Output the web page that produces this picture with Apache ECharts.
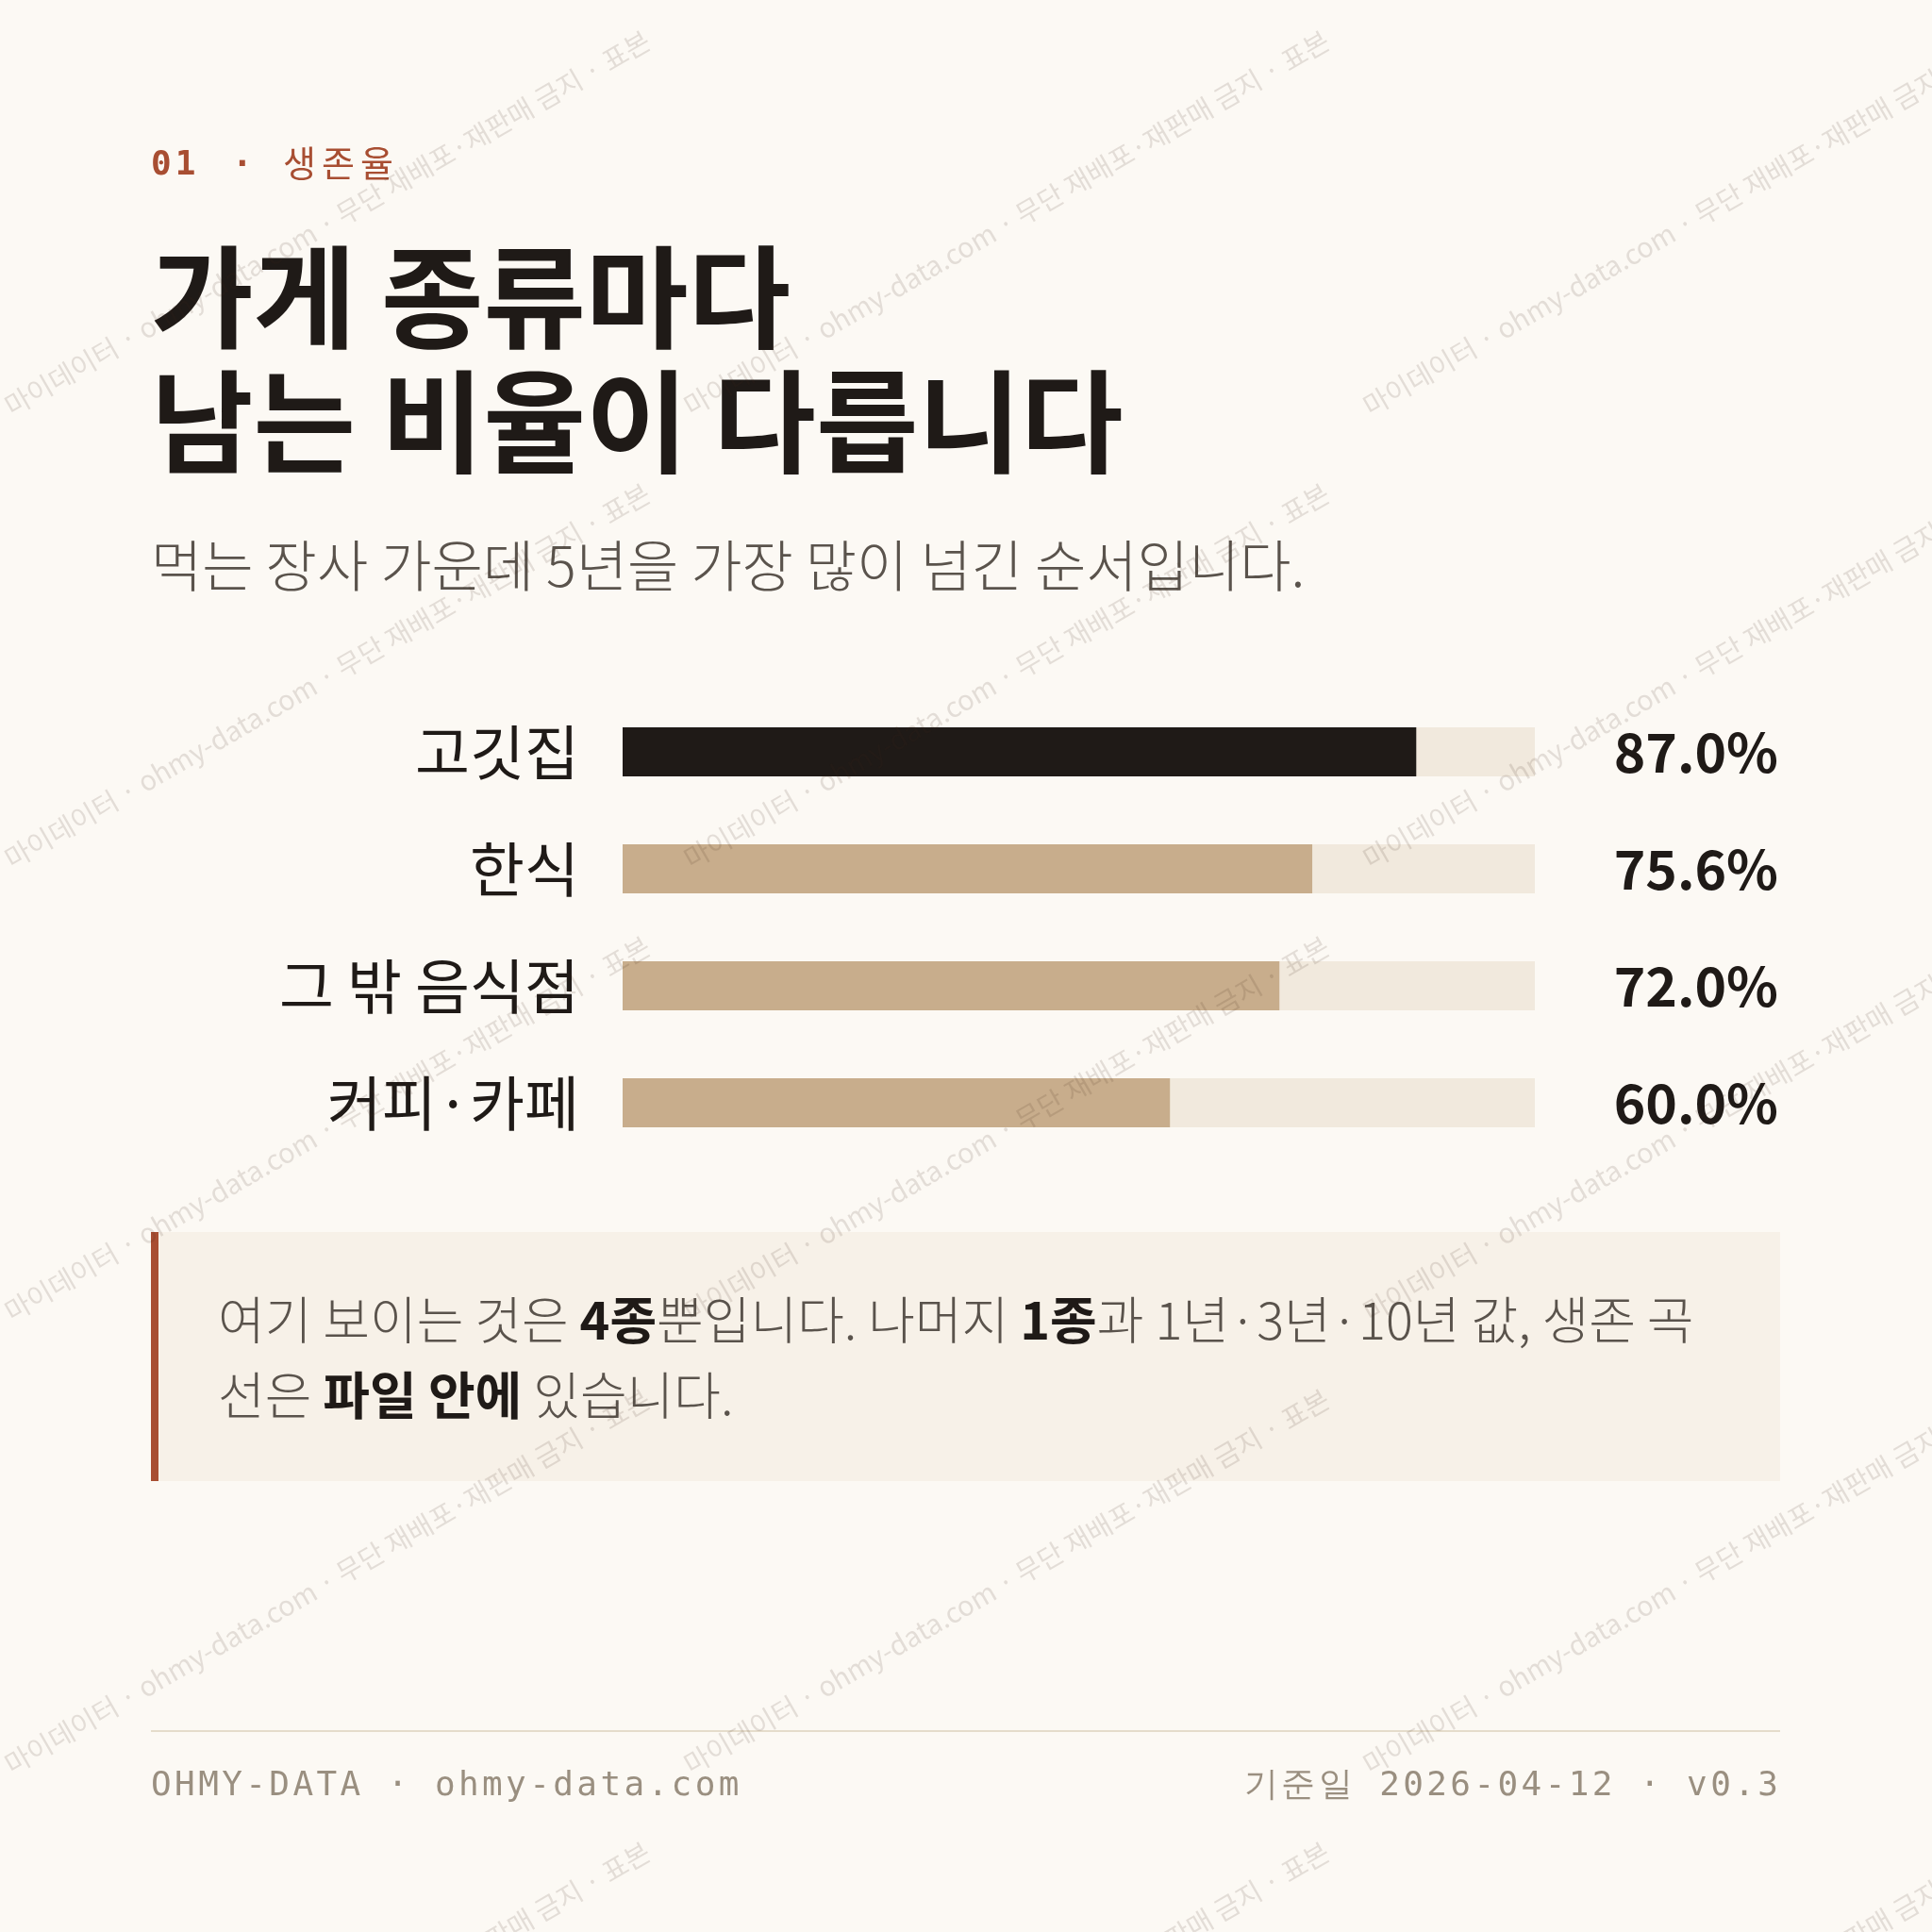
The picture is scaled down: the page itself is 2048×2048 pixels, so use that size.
<!DOCTYPE html>
<html><head><meta charset="utf-8">
<script src="https://cdn.jsdelivr.net/npm/echarts@6/dist/echarts.min.js"></script>
<style>html,body{margin:0;padding:0;background:#fcf9f4}#c{width:2048px;height:2048px}</style>
</head><body><div id="c"></div>
<script>
const categories = ['고깃집', '한식', '그 밖 음식점', '커피·카페'];
const survival5y = [87.0, 75.6, 72.0, 60.0];
const barColors = ['#1f1a17', '#c8ad8c', '#c8ad8c', '#c8ad8c'];
const valueLabels = survival5y.map(v => v.toFixed(1) + '%');

const KR = '"Noto Sans CJK KR", "Noto Sans", sans-serif';
const MONO = '"DejaVu Sans Mono", "Liberation Mono", monospace';

const ctx = document.createElement('canvas').getContext('2d');
function spaced(text, x, y, font, fill, spacing, alignRight) {
  ctx.font = font;
  const widths = [...text].map(ch => ctx.measureText(ch).width + spacing);
  const total = widths.reduce((a, b) => a + b, 0) - spacing;
  let cx = alignRight ? x - total : x;
  const out = [];
  [...text].forEach((ch, i) => {
    out.push({ type: 'text', x: cx, y: y, style: { text: ch, fill: fill, font: font } });
    cx += widths[i];
  });
  return out;
}

const wmText = '마이데이터 · ohmy-data.com · 무단 재배포·재판매 금지 · 표본';
const graphics = [];
for (let r = -2; r < 7; r++) {
  for (let c = -1; c < 4; c++) {
    graphics.push({
      type: 'text', x: c * 720 + 0, y: r * 480 + 420, rotation: Math.PI / 6, z: 100,
      style: { text: wmText, fill: 'rgba(60,40,20,0.13)', font: '29px ' + KR }
    });
  }
}
graphics.push(
  ...spaced('01', 160, 158, 'bold 36px ' + MONO, '#a84e32', 4, false),
  { type: 'text', x: 246, y: 158, style: { text: '·', fill: '#a84e32', font: 'bold 36px ' + MONO } },
  ...spaced('생존율', 300, 154, '38px ' + KR, '#a84e32', 6, false),
  { type: 'text', left: 160, top: 256, style: { text: '가게 종류마다', fill: '#1f1a17', font: 'bold 118px ' + KR } },
  { type: 'text', left: 160, top: 388, style: { text: '남는 비율이 다릅니다', fill: '#1f1a17', font: 'bold 118px ' + KR } },
  { type: 'text', left: 160, top: 570, style: { text: '먹는 장사 가운데 5년을 가장 많이 넘긴 순서입니다.', fill: '#5a534c', font: '300 59px ' + KR } },
  { type: 'rect', shape: { x: 160, y: 1306, width: 1727, height: 264 }, style: { fill: '#f7f1e8' } },
  { type: 'rect', shape: { x: 160, y: 1306, width: 8, height: 264 }, style: { fill: '#a84e32' } },
  { type: 'text', left: 231, top: 1372, style: {
      text: '{n|여기 보이는 것은 }{b|4종}{n|뿐입니다. 나머지 }{b|1종}{n|과 1년·3년·10년 값, 생존 곡}',
      rich: { n: { fill: '#5a534c', font: '300 54px ' + KR }, b: { fill: '#1f1a17', font: 'bold 54px ' + KR } } } },
  { type: 'text', left: 231, top: 1452, style: {
      text: '{n|선은 }{b|파일 안에}{n| 있습니다.}',
      rich: { n: { fill: '#5a534c', font: '300 54px ' + KR }, b: { fill: '#1f1a17', font: 'bold 54px ' + KR } } } },
  { type: 'rect', shape: { x: 160, y: 1834, width: 1727, height: 2 }, style: { fill: '#e5dccb' } },
  ...spaced('OHMY-DATA · ohmy-data.com', 160, 1876, '36px ' + MONO, '#9a8f80', 3.4, false),
  ...spaced('기준일 2026-04-12 · v0.3', 1885, 1876, '36px ' + MONO, '#9a8f80', 3.4, true)
);

const chart = echarts.init(document.getElementById('c'));
chart.setOption({
  backgroundColor: '#fcf9f4',
  animation: false,
  grid: { left: 660, right: 421, top: 735, height: 496 },
  xAxis: { type: 'value', min: 0, max: 100, show: false },
  yAxis: [
    { type: 'category', data: categories, inverse: true, axisLine: { show: false }, axisTick: { show: false },
      axisLabel: { margin: 46, color: '#1f1a17', fontSize: 63, fontFamily: KR } },
    { type: 'category', data: valueLabels, inverse: true, position: 'right', axisLine: { show: false }, axisTick: { show: false },
      axisLabel: { margin: 258, align: 'right', color: '#1f1a17', fontSize: 57, fontWeight: 'bold', fontFamily: KR } }
  ],
  series: [{
    type: 'bar', barWidth: 52,
    data: survival5y.map((v, i) => ({ value: v, itemStyle: { color: barColors[i] } })),
    showBackground: true, backgroundStyle: { color: '#f1e9dd' }
  }],
  graphic: graphics
});
</script></body></html>
